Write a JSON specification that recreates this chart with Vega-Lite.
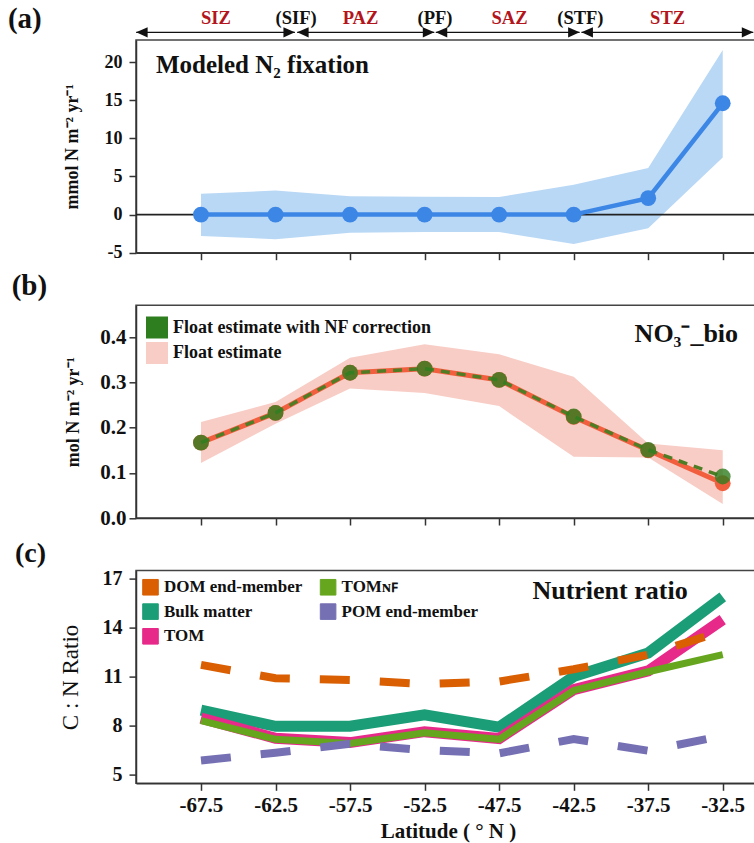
{
  "$schema": "https://vega.github.io/schema/vega-lite/v6.json",
  "autosize": {"type": "none"},
  "padding": {"left": 136, "top": 40, "right": 618, "bottom": 803},
  "bounds": "flush",
  "spacing": 52.3,
  "background": "white",
  "config": {
    "font": "Liberation Serif",
    "view": {"stroke": "#444", "strokeWidth": 1.5},
    "axis": {
      "domainColor": "#333", "domainWidth": 1.5,
      "tickColor": "#333", "tickWidth": 1.5, "tickSize": 7,
      "grid": false,
      "labelFont": "Liberation Serif", "labelFontWeight": "bold", "labelColor": "#111",
      "labelExpr": "replace(datum.label, '−', '-')",
      "titleFont": "Liberation Serif", "titleFontWeight": "bold", "titleColor": "#111"
    },
    "legend": {
      "labelFont": "Liberation Serif", "labelFontWeight": "bold", "labelColor": "#111",
      "padding": 0, "symbolOpacity": 1, "labelLimit": 400
    }
  },
  "datasets": {
    "n2fix": [
      {"lat": -67.5, "n2fix": 0, "lo": -2.8, "hi": 2.72},
      {"lat": -62.5, "n2fix": 0, "lo": -3.22, "hi": 3.15},
      {"lat": -57.5, "n2fix": 0, "lo": -2.38, "hi": 2.42},
      {"lat": -52.5, "n2fix": 0, "lo": -2.3, "hi": 2.35},
      {"lat": -47.5, "n2fix": 0, "lo": -2.3, "hi": 2.3},
      {"lat": -42.5, "n2fix": 0, "lo": -3.85, "hi": 3.9},
      {"lat": -37.5, "n2fix": 2.15, "lo": -1.8, "hi": 6.1},
      {"lat": -32.5, "n2fix": 14.6, "lo": 7.5, "hi": 21.6}
    ],
    "zones": [
      {"label": "SIZ", "kind": "zone", "lat": -66.5, "start": -71.85, "end": -61.2},
      {"label": "(SIF)", "kind": "front", "lat": -61.12},
      {"label": "PAZ", "kind": "zone", "lat": -56.8, "start": -61.05, "end": -51.85},
      {"label": "(PF)", "kind": "front", "lat": -51.8},
      {"label": "SAZ", "kind": "zone", "lat": -46.8, "start": -51.75, "end": -42.1},
      {"label": "(STF)", "kind": "front", "lat": -42.05},
      {"label": "STZ", "kind": "zone", "lat": -36.2, "start": -41.98, "end": -30.45}
    ],
    "no3": [
      {"lat": -67.5, "series": "Float estimate", "value": 0.167, "lo": 0.122, "hi": 0.213},
      {"lat": -62.5, "series": "Float estimate", "value": 0.233, "lo": 0.209, "hi": 0.257},
      {"lat": -57.5, "series": "Float estimate", "value": 0.322, "lo": 0.287, "hi": 0.355},
      {"lat": -52.5, "series": "Float estimate", "value": 0.331, "lo": 0.277, "hi": 0.385},
      {"lat": -47.5, "series": "Float estimate", "value": 0.306, "lo": 0.248, "hi": 0.363},
      {"lat": -42.5, "series": "Float estimate", "value": 0.224, "lo": 0.136, "hi": 0.313},
      {"lat": -37.5, "series": "Float estimate", "value": 0.15, "lo": 0.134, "hi": 0.165},
      {"lat": -32.5, "series": "Float estimate", "value": 0.077, "lo": 0.031, "hi": 0.15},
      {"lat": -67.5, "series": "Float estimate with NF correction", "value": 0.167},
      {"lat": -62.5, "series": "Float estimate with NF correction", "value": 0.233},
      {"lat": -57.5, "series": "Float estimate with NF correction", "value": 0.322},
      {"lat": -52.5, "series": "Float estimate with NF correction", "value": 0.331},
      {"lat": -47.5, "series": "Float estimate with NF correction", "value": 0.306},
      {"lat": -42.5, "series": "Float estimate with NF correction", "value": 0.225},
      {"lat": -37.5, "series": "Float estimate with NF correction", "value": 0.151},
      {"lat": -32.5, "series": "Float estimate with NF correction", "value": 0.092}
    ],
    "ratio": [
      {"lat": -67.5, "series": "DOM end-member", "ratio": 11.72},
      {"lat": -62.5, "series": "DOM end-member", "ratio": 10.9},
      {"lat": -57.5, "series": "DOM end-member", "ratio": 10.8},
      {"lat": -52.5, "series": "DOM end-member", "ratio": 10.55},
      {"lat": -47.5, "series": "DOM end-member", "ratio": 10.7},
      {"lat": -42.5, "series": "DOM end-member", "ratio": 11.45},
      {"lat": -37.5, "series": "DOM end-member", "ratio": 12.35},
      {"lat": -32.5, "series": "DOM end-member", "ratio": 13.8},
      {"lat": -67.5, "series": "Bulk matter", "ratio": 8.95},
      {"lat": -62.5, "series": "Bulk matter", "ratio": 7.95},
      {"lat": -57.5, "series": "Bulk matter", "ratio": 7.95},
      {"lat": -52.5, "series": "Bulk matter", "ratio": 8.65},
      {"lat": -47.5, "series": "Bulk matter", "ratio": 7.9},
      {"lat": -42.5, "series": "Bulk matter", "ratio": 11.0},
      {"lat": -37.5, "series": "Bulk matter", "ratio": 12.45},
      {"lat": -32.5, "series": "Bulk matter", "ratio": 15.9},
      {"lat": -67.5, "series": "TOM", "ratio": 8.45},
      {"lat": -62.5, "series": "TOM", "ratio": 7.22},
      {"lat": -57.5, "series": "TOM", "ratio": 6.95},
      {"lat": -52.5, "series": "TOM", "ratio": 7.62},
      {"lat": -47.5, "series": "TOM", "ratio": 7.2},
      {"lat": -42.5, "series": "TOM", "ratio": 10.2},
      {"lat": -37.5, "series": "TOM", "ratio": 11.35},
      {"lat": -32.5, "series": "TOM", "ratio": 14.5},
      {"lat": -67.5, "series": "TOMɴꜰ", "ratio": 8.3},
      {"lat": -62.5, "series": "TOMɴꜰ", "ratio": 7.15},
      {"lat": -57.5, "series": "TOMɴꜰ", "ratio": 6.9},
      {"lat": -52.5, "series": "TOMɴꜰ", "ratio": 7.55},
      {"lat": -47.5, "series": "TOMɴꜰ", "ratio": 7.15},
      {"lat": -42.5, "series": "TOMɴꜰ", "ratio": 10.15},
      {"lat": -37.5, "series": "TOMɴꜰ", "ratio": 11.3},
      {"lat": -32.5, "series": "TOMɴꜰ", "ratio": 12.35},
      {"lat": -67.5, "series": "POM end-member", "ratio": 5.85},
      {"lat": -62.5, "series": "POM end-member", "ratio": 6.33},
      {"lat": -57.5, "series": "POM end-member", "ratio": 6.87},
      {"lat": -52.5, "series": "POM end-member", "ratio": 6.48},
      {"lat": -47.5, "series": "POM end-member", "ratio": 6.29},
      {"lat": -42.5, "series": "POM end-member", "ratio": 7.17},
      {"lat": -37.5, "series": "POM end-member", "ratio": 6.45},
      {"lat": -32.5, "series": "POM end-member", "ratio": 7.36}
    ]
  },
  "vconcat": [
    {
      "width": 624,
      "height": 212.7,
      "layer": [
        {
          "data": {"name": "n2fix"},
          "mark": {"type": "area", "color": "#b9d8f5"},
          "encoding": {
            "x": {
              "field": "lat", "type": "quantitative", "title": null,
              "scale": {"domain": [-71.86, -30.0], "nice": false, "zero": false},
              "axis": {"values": [-67.5, -62.5, -57.5, -52.5, -47.5, -42.5, -37.5, -32.5], "labels": false, "title": null}
            },
            "y": {
              "field": "lo", "type": "quantitative", "title": "mmol N m⁻² yr⁻¹",
              "scale": {"domain": [-5, 22.9], "nice": false, "zero": false},
              "axis": {"values": [-5, 0, 5, 10, 15, 20], "title": "mmol N m⁻² yr⁻¹", "labelFontSize": 18, "titleFontSize": 18, "titlePadding": 23, "labelPadding": 7}
            },
            "y2": {"field": "hi"}
          }
        },
        {
          "data": {"values": [{}]},
          "mark": {"type": "rule", "color": "#222", "strokeWidth": 1.6},
          "encoding": {
            "x": {"datum": -71.86, "type": "quantitative"},
            "x2": {"datum": -30.0},
            "y": {"datum": 0, "type": "quantitative"}
          }
        },
        {
          "data": {"name": "n2fix"},
          "mark": {"type": "line", "color": "#3c86e6", "strokeWidth": 4.5},
          "encoding": {
            "x": {"field": "lat", "type": "quantitative", "title": null},
            "y": {"field": "n2fix", "type": "quantitative", "title": "mmol N m⁻² yr⁻¹"}
          }
        },
        {
          "data": {"name": "n2fix"},
          "mark": {"type": "point", "filled": true, "size": 250, "color": "#3c86e6", "opacity": 1},
          "encoding": {
            "x": {"field": "lat", "type": "quantitative", "title": null},
            "y": {"field": "n2fix", "type": "quantitative", "title": "mmol N m⁻² yr⁻¹"}
          }
        },
        {
          "data": {"values": [{}]},
          "mark": {"type": "text", "text": "Modeled N₂ fixation", "align": "left", "baseline": "alphabetic", "fontSize": 25, "fontWeight": "bold", "color": "#111"},
          "encoding": {
            "x": {"datum": -70.52, "type": "quantitative"},
            "y": {"datum": 18.53, "type": "quantitative"}
          }
        },
        {
          "data": {"values": [{}]},
          "mark": {"type": "text", "text": "(a)", "align": "left", "baseline": "alphabetic", "fontSize": 29, "fontWeight": "bold", "color": "#111"},
          "encoding": {
            "x": {"datum": -80.45, "type": "quantitative"},
            "y": {"datum": 24.47, "type": "quantitative"}
          }
        },
        {
          "data": {"name": "zones"},
          "transform": [{"filter": "datum.kind === 'zone'"}],
          "mark": {"type": "rule", "color": "#111", "strokeWidth": 1.3},
          "encoding": {
            "x": {"field": "start", "type": "quantitative", "title": null},
            "x2": {"field": "end"},
            "y": {"datum": 23.91, "type": "quantitative"}
          }
        },
        {
          "data": {"name": "zones"},
          "transform": [{"filter": "datum.kind === 'zone'"}],
          "mark": {"type": "point", "shape": "M0,0L1,-0.45L1,0.45Z", "filled": true, "size": 529, "color": "#111", "opacity": 1, "strokeWidth": 0},
          "encoding": {
            "x": {"field": "start", "type": "quantitative", "title": null},
            "y": {"datum": 23.91, "type": "quantitative"}
          }
        },
        {
          "data": {"name": "zones"},
          "transform": [{"filter": "datum.kind === 'zone'"}],
          "mark": {"type": "point", "shape": "M0,0L-1,-0.45L-1,0.45Z", "filled": true, "size": 529, "color": "#111", "opacity": 1, "strokeWidth": 0},
          "encoding": {
            "x": {"field": "end", "type": "quantitative", "title": null},
            "y": {"datum": 23.91, "type": "quantitative"}
          }
        },
        {
          "data": {"name": "zones"},
          "mark": {"type": "text", "baseline": "middle", "fontSize": 18.5, "fontWeight": "bold"},
          "encoding": {
            "x": {"field": "lat", "type": "quantitative", "title": null},
            "y": {"datum": 25.75, "type": "quantitative"},
            "text": {"field": "label"},
            "color": {"condition": {"test": "datum.kind === 'zone'", "value": "#b3151d"}, "value": "#111"}
          }
        }
      ]
    },
    {
      "width": 624,
      "height": 212.7,
      "layer": [
        {
          "encoding": {
            "x": {
              "field": "lat", "type": "quantitative", "title": null,
              "scale": {"domain": [-71.86, -30.0], "nice": false, "zero": false},
              "axis": {"values": [-67.5, -62.5, -57.5, -52.5, -47.5, -42.5, -37.5, -32.5], "labels": false, "title": null}
            },
            "y": {
              "field": "value", "type": "quantitative", "title": "mol N m⁻² yr⁻¹",
              "scale": {"domain": [0, 0.4715], "nice": false, "zero": false},
              "axis": {"values": [0, 0.1, 0.2, 0.3, 0.4], "format": ".1f", "title": "mol N m⁻² yr⁻¹", "labelFontSize": 21, "titleFontSize": 18, "titlePadding": 17, "labelPadding": 3}
            }
          },
          "layer": [
            {
              "data": {"name": "no3"},
              "transform": [{"filter": "datum.series === 'Float estimate'"}],
              "mark": {"type": "area", "opacity": 1},
              "encoding": {
                "y": {"field": "lo", "type": "quantitative", "title": "mol N m⁻² yr⁻¹"},
                "y2": {"field": "hi"},
                "fill": {
                  "field": "series", "type": "nominal",
                  "scale": {"domain": ["Float estimate with NF correction", "Float estimate"], "range": ["#2e7d1f", "#f8cdc6"]},
                  "legend": {
                    "title": null, "orient": "none", "legendX": 10, "legendY": 276.5,
                    "symbolType": "square", "symbolSize": 484, "symbolStrokeWidth": 0,
                    "labelFontSize": 18, "labelOffset": 5, "rowPadding": 3.5
                  }
                }
              }
            },
            {
              "data": {"name": "no3"},
              "transform": [{"filter": "datum.series === 'Float estimate'"}],
              "mark": {"type": "line", "color": "#f25f3f", "strokeWidth": 5}
            },
            {
              "data": {"name": "no3"},
              "transform": [{"filter": "datum.series === 'Float estimate'"}],
              "mark": {"type": "point", "filled": true, "size": 250, "color": "#f25f3f", "opacity": 1}
            },
            {
              "data": {"name": "no3"},
              "transform": [{"filter": "datum.series === 'Float estimate with NF correction'"}],
              "mark": {"type": "line", "color": "#4f7d25", "strokeWidth": 3.5, "strokeDash": [9, 7]}
            },
            {
              "data": {"name": "no3"},
              "transform": [{"filter": "datum.series === 'Float estimate with NF correction'"}],
              "mark": {"type": "point", "filled": true, "size": 250, "opacity": 0.8, "strokeWidth": 0},
              "encoding": {
                "fill": {
                  "field": "series", "type": "nominal",
                  "scale": {"domain": ["Float estimate with NF correction", "Float estimate"], "range": ["#2e7d1f", "#f8cdc6"]},
                  "legend": {
                    "title": null, "orient": "none", "legendX": 10, "legendY": 276.5,
                    "symbolType": "square", "symbolSize": 484, "symbolStrokeWidth": 0,
                    "labelFontSize": 18, "labelOffset": 5, "rowPadding": 3.5
                  }
                }
              }
            }
          ]
        },
        {
          "data": {"values": [{}]},
          "mark": {"type": "text", "text": "NO₃⁻_bio", "align": "right", "baseline": "alphabetic", "fontSize": 26, "fontWeight": "bold", "color": "#111"},
          "encoding": {
            "x": {"datum": -31.47, "type": "quantitative"},
            "y": {"datum": 0.3896, "type": "quantitative"}
          }
        },
        {
          "data": {"values": [{}]},
          "mark": {"type": "text", "text": "(b)", "align": "left", "baseline": "alphabetic", "fontSize": 29, "fontWeight": "bold", "color": "#111"},
          "encoding": {
            "x": {"datum": -80.2, "type": "quantitative"},
            "y": {"datum": 0.4937, "type": "quantitative"}
          }
        }
      ]
    },
    {
      "width": 624,
      "height": 212.7,
      "layer": [
        {
          "encoding": {
            "x": {
              "field": "lat", "type": "quantitative", "title": "Latitude ( ° N )",
              "scale": {"domain": [-71.86, -30.0], "nice": false, "zero": false},
              "axis": {"values": [-67.5, -62.5, -57.5, -52.5, -47.5, -42.5, -37.5, -32.5], "format": ".1f", "title": "Latitude ( ° N )", "labelFontSize": 21, "titleFontSize": 21, "labelPadding": 4, "titlePadding": 5}
            },
            "y": {
              "field": "ratio", "type": "quantitative", "title": "C : N Ratio",
              "scale": {"domain": [4.45, 17.51], "nice": false, "zero": false},
              "axis": {"values": [5, 8, 11, 14, 17], "title": "C : N Ratio", "titleFontWeight": "normal", "labelFontSize": 20, "titleFontSize": 23, "titlePadding": 20, "labelPadding": 7}
            },
            "color": {
              "field": "series", "type": "nominal",
              "scale": {
                "domain": ["DOM end-member", "TOMɴꜰ", "Bulk matter", "POM end-member", "TOM"],
                "range": ["#d95f02", "#66a61e", "#1b9e77", "#7570b3", "#e7298a"]
              },
              "legend": {
                "title": null, "orient": "none", "direction": "horizontal", "legendX": 6, "legendY": 538.4, "columns": 2,
                "symbolType": "square", "symbolSize": 243, "symbolStrokeWidth": 1, "symbolDash": [],
                "labelFontSize": 17, "labelOffset": 5, "rowPadding": 3.7, "columnPadding": 14.6,
                "encode": {
                  "symbols": {
                    "update": {
                      "fill": [
                        {"test": "datum.value === 'DOM end-member'", "value": "#d95f02"},
                        {"test": "datum.value === 'TOMɴꜰ'", "value": "#66a61e"},
                        {"test": "datum.value === 'Bulk matter'", "value": "#1b9e77"},
                        {"test": "datum.value === 'POM end-member'", "value": "#7570b3"},
                        {"value": "#e7298a"}
                      ],
                      "fillOpacity": {"value": 1}
                    }
                  }
                }
              }
            }
          },
          "layer": [
            {
              "data": {"name": "ratio"},
              "transform": [{"filter": "datum.series === 'Bulk matter'"}],
              "mark": {"type": "line", "strokeWidth": 11}
            },
            {
              "data": {"name": "ratio"},
              "transform": [{"filter": "datum.series === 'TOM'"}],
              "mark": {"type": "line", "strokeWidth": 11}
            },
            {
              "data": {"name": "ratio"},
              "transform": [{"filter": "datum.series === 'TOMɴꜰ'"}],
              "mark": {"type": "line", "strokeWidth": 7}
            },
            {
              "data": {"name": "ratio"},
              "transform": [{"filter": "datum.series === 'DOM end-member' || datum.series === 'POM end-member'"}],
              "mark": {"type": "line", "strokeWidth": 8, "strokeDash": [30, 30]}
            }
          ]
        },
        {
          "data": {"values": [{}]},
          "mark": {"type": "text", "text": "Nutrient ratio", "align": "center", "baseline": "alphabetic", "fontSize": 26, "fontWeight": "bold", "color": "#111"},
          "encoding": {
            "x": {"datum": -40.06, "type": "quantitative"},
            "y": {"datum": 15.76, "type": "quantitative"}
          }
        },
        {
          "data": {"values": [{}]},
          "mark": {"type": "text", "text": "(c)", "align": "left", "baseline": "alphabetic", "fontSize": 28, "fontWeight": "bold", "color": "#111"},
          "encoding": {
            "x": {"datum": -79.98, "type": "quantitative"},
            "y": {"datum": 18.03, "type": "quantitative"}
          }
        }
      ]
    }
  ]
}
